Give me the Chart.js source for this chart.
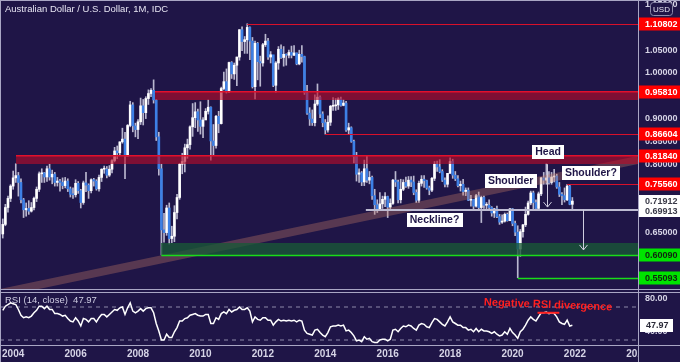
<!DOCTYPE html>
<html>
<head>
<meta charset="utf-8">
<script src="https://cdn.jsdelivr.net/npm/chart.js@4.4.0/dist/chart.umd.min.js"></script>
<style>
  html, body { margin: 0; padding: 0; background: #1f1547; }
  #wrap { position: relative; width: 680px; height: 362px; overflow: hidden; background: #1f1547; }
  canvas { position: absolute; left: 0; }
  #main { top: 0; }
  #rsi { top: 289px; }
  .ln { position: absolute; background: #a9a6c4; }
</style>
</head>
<body>
<div id="wrap">
  <canvas id="main" width="680" height="289"></canvas>
  <canvas id="rsi" width="680" height="73"></canvas>
  <div class="ln" style="left:0;top:0;width:680px;height:1px"></div>
  <div class="ln" style="left:0;top:0;width:1px;height:362px"></div>
  <div class="ln" style="left:0;top:289px;width:680px;height:1px"></div>
  <div class="ln" style="left:0;top:292px;width:680px;height:1px"></div>
  <div class="ln" style="left:0;top:345px;width:680px;height:1px"></div>
  <div class="ln" style="left:638px;top:0;width:1px;height:362px"></div>
</div>
<script>
'use strict';

const FONT = "'Liberation Sans', Arial, sans-serif";
const BG = '#1f1547';
const X_MIN = 2003.578, X_MAX = 2024.02;

// AUD/USD monthly candles, Sep 2003 - Dec 2021 (open = previous close)
const startYear = 2003, startMonth = 9;
const firstOpen = 0.647;
const closes = [
  0.668, 0.705, 0.725, 0.752,
  0.770, 0.775, 0.760, 0.722, 0.700, 0.703, 0.697, 0.705, 0.725, 0.745, 0.779, 0.781,
  0.772, 0.790, 0.772, 0.778, 0.760, 0.763, 0.760, 0.753, 0.763, 0.746, 0.734, 0.733,
  0.758, 0.742, 0.716, 0.759, 0.754, 0.742, 0.766, 0.763, 0.746, 0.771, 0.789, 0.789,
  0.776, 0.789, 0.808, 0.829, 0.825, 0.849, 0.855, 0.818, 0.885, 0.930, 0.884, 0.876,
  0.893, 0.928, 0.913, 0.944, 0.955, 0.962, 0.941, 0.860, 0.790, 0.656, 0.650, 0.704,
  0.637, 0.642, 0.694, 0.727, 0.800, 0.806, 0.836, 0.843, 0.882, 0.902, 0.915, 0.897,
  0.883, 0.897, 0.916, 0.925, 0.851, 0.841, 0.905, 0.889, 0.966, 0.981, 0.960, 1.023,
  0.998, 1.017, 1.035, 1.095, 1.069, 1.073, 1.100, 1.070, 0.970, 1.065, 1.025, 1.022,
  1.062, 1.070, 1.035, 1.040, 0.973, 1.022, 1.052, 1.034, 1.041, 1.039, 1.045, 1.039,
  1.044, 1.020, 1.041, 1.036, 0.957, 0.912, 0.899, 0.891, 0.932, 0.947, 0.910, 0.891,
  0.875, 0.892, 0.927, 0.928, 0.930, 0.943, 0.929, 0.934, 0.875, 0.880, 0.850, 0.817,
  0.778, 0.781, 0.761, 0.790, 0.765, 0.771, 0.731, 0.711, 0.702, 0.713, 0.723, 0.729,
  0.706, 0.714, 0.765, 0.761, 0.722, 0.745, 0.760, 0.752, 0.765, 0.761, 0.738, 0.721,
  0.758, 0.767, 0.764, 0.748, 0.743, 0.769, 0.800, 0.794, 0.784, 0.765, 0.756, 0.780,
  0.806, 0.776, 0.768, 0.753, 0.756, 0.740, 0.743, 0.721, 0.723, 0.708, 0.731, 0.705,
  0.727, 0.710, 0.710, 0.705, 0.693, 0.702, 0.685, 0.673, 0.675, 0.690, 0.676, 0.702,
  0.670, 0.651, 0.614, 0.652, 0.667, 0.690, 0.715, 0.737, 0.716, 0.703, 0.735, 0.770,
  0.765, 0.770, 0.760, 0.772, 0.774, 0.750, 0.734, 0.731, 0.722, 0.752, 0.712, 0.71912
];
const highs = [
  0.680, 0.712, 0.730, 0.755,
  0.785, 0.801, 0.782, 0.768, 0.725, 0.715, 0.720, 0.716, 0.728, 0.750, 0.783, 0.790,
  0.782, 0.796, 0.800, 0.787, 0.782, 0.771, 0.767, 0.770, 0.771, 0.768, 0.750, 0.748,
  0.766, 0.762, 0.745, 0.763, 0.782, 0.757, 0.768, 0.769, 0.766, 0.776, 0.790, 0.796,
  0.795, 0.797, 0.810, 0.837, 0.840, 0.849, 0.879, 0.870, 0.887, 0.938, 0.935, 0.890,
  0.898, 0.945, 0.942, 0.948, 0.963, 0.966, 0.985, 0.942, 0.870, 0.800, 0.692, 0.710,
  0.715, 0.664, 0.709, 0.734, 0.802, 0.824, 0.844, 0.855, 0.884, 0.933, 0.935, 0.921,
  0.937, 0.902, 0.922, 0.941, 0.926, 0.887, 0.907, 0.916, 0.969, 1.002, 1.009, 1.024,
  1.025, 1.022, 1.035, 1.095, 1.101, 1.080, 1.108, 1.101, 1.078, 1.070, 1.067, 1.037,
  1.065, 1.085, 1.076, 1.047, 1.038, 1.025, 1.058, 1.062, 1.058, 1.042, 1.050, 1.059,
  1.060, 1.044, 1.050, 1.060, 1.037, 0.973, 0.924, 0.919, 0.952, 0.976, 0.950, 0.915,
  0.898, 0.906, 0.929, 0.946, 0.944, 0.946, 0.947, 0.941, 0.938, 0.890, 0.882, 0.853,
  0.826, 0.790, 0.784, 0.809, 0.817, 0.784, 0.774, 0.745, 0.722, 0.738, 0.730, 0.738,
  0.730, 0.724, 0.767, 0.784, 0.765, 0.767, 0.766, 0.772, 0.773, 0.773, 0.774, 0.744,
  0.763, 0.775, 0.775, 0.765, 0.752, 0.771, 0.806, 0.807, 0.810, 0.788, 0.770, 0.780,
  0.814, 0.811, 0.784, 0.775, 0.763, 0.767, 0.748, 0.748, 0.732, 0.723, 0.734, 0.739,
  0.730, 0.730, 0.716, 0.722, 0.707, 0.703, 0.708, 0.690, 0.689, 0.693, 0.693, 0.703,
  0.703, 0.675, 0.665, 0.657, 0.668, 0.706, 0.719, 0.741, 0.741, 0.722, 0.739, 0.771,
  0.782, 0.801, 0.784, 0.782, 0.789, 0.778, 0.760, 0.738, 0.748, 0.756, 0.754, 0.727
];
const lows = [
  0.638, 0.665, 0.695, 0.718,
  0.745, 0.760, 0.730, 0.715, 0.683, 0.686, 0.690, 0.695, 0.700, 0.718, 0.740, 0.760,
  0.760, 0.762, 0.765, 0.757, 0.752, 0.752, 0.741, 0.746, 0.748, 0.740, 0.728, 0.725,
  0.728, 0.736, 0.704, 0.712, 0.740, 0.725, 0.737, 0.752, 0.743, 0.741, 0.762, 0.780,
  0.770, 0.773, 0.781, 0.805, 0.812, 0.820, 0.846, 0.768, 0.818, 0.882, 0.871, 0.860,
  0.856, 0.887, 0.886, 0.900, 0.931, 0.948, 0.934, 0.852, 0.776, 0.601, 0.629, 0.644,
  0.625, 0.628, 0.630, 0.680, 0.723, 0.779, 0.783, 0.813, 0.833, 0.861, 0.880, 0.872,
  0.866, 0.858, 0.901, 0.910, 0.809, 0.819, 0.835, 0.869, 0.888, 0.963, 0.956, 0.957,
  0.988, 0.986, 0.972, 1.028, 1.049, 1.043, 1.043, 1.029, 0.967, 0.943, 0.985, 0.971,
  1.015, 1.058, 1.030, 1.022, 0.970, 0.958, 1.008, 1.032, 1.015, 1.017, 1.033, 1.033,
  1.038, 1.018, 1.018, 1.024, 0.953, 0.909, 0.885, 0.885, 0.884, 0.929, 0.902, 0.882,
  0.866, 0.870, 0.885, 0.918, 0.918, 0.920, 0.927, 0.928, 0.872, 0.865, 0.848, 0.803,
  0.763, 0.760, 0.753, 0.753, 0.760, 0.757, 0.723, 0.690, 0.694, 0.699, 0.703, 0.707,
  0.683, 0.699, 0.712, 0.751, 0.715, 0.715, 0.742, 0.749, 0.747, 0.751, 0.733, 0.716,
  0.716, 0.752, 0.749, 0.745, 0.733, 0.740, 0.764, 0.784, 0.781, 0.762, 0.750, 0.750,
  0.780, 0.769, 0.764, 0.750, 0.741, 0.732, 0.731, 0.720, 0.708, 0.702, 0.706, 0.702,
  0.672, 0.703, 0.700, 0.700, 0.686, 0.683, 0.683, 0.668, 0.670, 0.673, 0.675, 0.676,
  0.665, 0.643, 0.551, 0.598, 0.640, 0.663, 0.688, 0.711, 0.701, 0.699, 0.699, 0.731,
  0.756, 0.756, 0.756, 0.756, 0.761, 0.747, 0.729, 0.711, 0.717, 0.720, 0.711, 0.699
];
// RSI(14, close)
const rsi14 = [
  66, 71, 73, 75,
  74, 73, 67, 60, 57, 58, 57, 59, 63, 66, 71, 71,
  68, 71, 67, 67, 62, 62, 61, 59, 60, 56, 53, 52,
  57, 53, 47, 56, 55, 52, 56, 56, 52, 57, 61, 61,
  58, 61, 64, 67, 66, 69, 70, 61, 69, 75, 65, 63,
  65, 68, 65, 68, 69, 69, 63, 50, 41, 30, 30, 37,
  33, 33, 40, 45, 53, 53, 56, 57, 60, 61, 62, 60,
  59, 59, 61, 61, 50, 50, 57, 55, 62, 64, 62, 67,
  64, 66, 67, 70, 67, 67, 69, 65, 52, 58, 55, 54,
  57, 57, 54, 54, 48, 52, 55, 53, 54, 53, 54, 53,
  54, 52, 54, 53, 42, 38, 37, 36, 42, 43, 39, 36,
  34, 39, 46, 47, 47, 48, 47, 48, 41, 42, 39, 35,
  29, 30, 28, 34, 31, 32, 28, 27, 27, 30, 31, 31,
  29, 31, 42, 43, 40, 44, 47, 46, 48, 47, 44, 42,
  48, 50, 49, 46, 45, 51, 56, 55, 52, 49, 47, 52,
  58, 52, 50, 48, 48, 45, 45, 42, 43, 40, 44, 40,
  43, 41, 41, 40, 38, 40, 37, 35, 36, 40, 37, 44,
  39, 36, 32, 40, 43, 48, 54, 58, 55, 53, 58, 63,
  63, 64, 62, 63, 62, 58, 52, 50, 49, 54, 47, 47.97
];

const yearTicks = [2004, 2006, 2008, 2010, 2012, 2014, 2016, 2018, 2020, 2022, 2024];
const priceTicks = [0.55, 0.60, 0.65, 0.70, 0.75, 0.80, 0.85, 0.90, 0.95, 1.00, 1.05, 1.10, 1.15];
const rsiTicks = [40, 80];
const rsiGuides = [70, 30];

// drawn levels
const redLines = [1.10802, 0.86604, 0.75560];
const redLineFrom = [2011.5, 2014.0, 2021.75];
const redBandTop = [0.95810, 0.81840];
const redBandBottom = [0.94, 0.80];
const redBandFrom = [2008.55, 2004.08];
const greenLines = [0.60090, 0.55093];
const greenLineFrom = [2008.75, 2020.17];
const greenBandTop = 0.627;
const lastPrice = 0.71912;
const neckline = 0.69913;
const necklineFrom = 2015.3;
const trendTime = [2003.578, 2024.02];
const trendPrice = [0.5175, 0.8092];
const notes = [
  { text: 'Head', x: 2021.14, y: 0.8268 },
  { text: 'Shoulder', x: 2019.94, y: 0.7632 },
  { text: 'Shoulder?', x: 2022.51, y: 0.7807 },
  { text: 'Neckline?', x: 2017.5, y: 0.6787 }
];
const arrows = [
  { x: 2021.11, from: 0.800, to: 0.706 },
  { x: 2022.27, from: 0.700, to: 0.612 }
];
const divergence = { from: 2020.8, to: 2021.5, level: 63 };

const monthX = i => startYear + (startMonth - 1 + i) / 12;
const opens = closes.map((c, i) => i ? closes[i - 1] : firstOpen);

function noPad(a) {
  a.paddingLeft = 0; a.paddingRight = 0; a.paddingTop = 0; a.paddingBottom = 0;
}

function tag(ctx, x, yc, text, bg, fg) {
  const y = Math.round(yc);
  ctx.fillStyle = bg;
  ctx.fillRect(x, y - 6.5, 42, 13);
  ctx.fillStyle = fg;
  ctx.font = 'bold 9px ' + FONT;
  ctx.textAlign = 'left';
  ctx.textBaseline = 'middle';
  ctx.fillText(text, x + 6, y + 0.5);
}

const mainOverlay = {
  id: 'mainOverlay',
  afterDatasetsDraw(chart) {
    const { ctx, chartArea: a, scales: { x, y } } = chart;
    const R = a.right;
    ctx.save();
    ctx.beginPath();
    ctx.rect(a.left, a.top, a.right - a.left, a.bottom - a.top);
    ctx.clip();

    // rising trend channel
    ctx.strokeStyle = 'rgba(190,120,100,0.36)';
    ctx.lineWidth = 8;
    ctx.beginPath();
    ctx.moveTo(x.getPixelForValue(trendTime[0]), y.getPixelForValue(trendPrice[0]));
    ctx.lineTo(x.getPixelForValue(trendTime[1]), y.getPixelForValue(trendPrice[1]));
    ctx.stroke();

    // red zones
    redBandTop.forEach((top, i) => {
      const x0 = Math.round(x.getPixelForValue(redBandFrom[i]));
      const y0 = Math.round(y.getPixelForValue(top));
      const y1 = Math.round(y.getPixelForValue(redBandBottom[i]));
      ctx.fillStyle = 'rgba(185,12,40,0.62)';
      ctx.fillRect(x0, y0, R - x0, y1 - y0);
      ctx.fillStyle = '#e3102c';
      ctx.fillRect(x0, y0 - 1, R - x0, 1.5);
    });

    // green zone
    {
      const x0 = Math.round(x.getPixelForValue(greenLineFrom[0]));
      const y0 = Math.round(y.getPixelForValue(greenBandTop));
      const y1 = Math.round(y.getPixelForValue(greenLines[0]));
      ctx.fillStyle = 'rgba(25,88,55,0.78)';
      ctx.fillRect(x0, y0, R - x0, y1 - y0);
    }

    // thin levels
    ctx.lineWidth = 1;
    redLines.forEach((v, i) => {
      const yy = Math.round(y.getPixelForValue(v)) + 0.5;
      ctx.strokeStyle = '#d8102a';
      ctx.beginPath();
      ctx.moveTo(x.getPixelForValue(redLineFrom[i]), yy);
      ctx.lineTo(R, yy);
      ctx.stroke();
    });
    ctx.lineWidth = 1.5;
    greenLines.forEach((v, i) => {
      const yy = Math.round(y.getPixelForValue(v)) + 0.5;
      ctx.strokeStyle = '#19dd19';
      ctx.beginPath();
      ctx.moveTo(x.getPixelForValue(greenLineFrom[i]), yy);
      ctx.lineTo(R, yy);
      ctx.stroke();
    });

    // neckline
    {
      const yy = Math.round(y.getPixelForValue(neckline));
      ctx.strokeStyle = '#bdbbd2';
      ctx.lineWidth = 2;
      ctx.beginPath();
      ctx.moveTo(x.getPixelForValue(necklineFrom), yy);
      ctx.lineTo(R, yy);
      ctx.stroke();
    }

    // arrows
    ctx.strokeStyle = '#cfcde0';
    ctx.lineWidth = 1;
    arrows.forEach(ar => {
      const xx = Math.round(x.getPixelForValue(ar.x)) + 0.5;
      const y0 = y.getPixelForValue(ar.from), y1 = y.getPixelForValue(ar.to);
      ctx.beginPath();
      ctx.moveTo(xx, y0);
      ctx.lineTo(xx, y1);
      ctx.moveTo(xx - 4, y1 - 5);
      ctx.lineTo(xx, y1);
      ctx.lineTo(xx + 4, y1 - 5);
      ctx.stroke();
    });

    // pattern notes
    ctx.font = 'bold 10.5px ' + FONT;
    ctx.textAlign = 'center';
    ctx.textBaseline = 'middle';
    notes.forEach(n => {
      const cx = x.getPixelForValue(n.x), cy = Math.round(y.getPixelForValue(n.y));
      const w = Math.round(ctx.measureText(n.text).width) + 6;
      ctx.fillStyle = '#ffffff';
      ctx.fillRect(Math.round(cx - w / 2), cy - 7, w, 14);
      ctx.fillStyle = '#1f1547';
      ctx.fillText(n.text, cx, cy + 0.5);
    });
    ctx.restore();

    // price tags on the axis
    ctx.save();
    const L = R + 1;
    redLines.concat(redBandTop).forEach(v => tag(ctx, L, y.getPixelForValue(v), v.toFixed(5), '#ff0000', '#ffffff'));
    greenLines.forEach(v => tag(ctx, L, y.getPixelForValue(v), v.toFixed(5), '#00e400', '#10240f'));
    const yA = Math.round(y.getPixelForValue(lastPrice)), yB = Math.round(y.getPixelForValue(neckline));
    ctx.fillStyle = '#ffffff';
    ctx.fillRect(L, yA - 6, 42, yB - yA + 13);
    ctx.fillStyle = '#3a3a48';
    ctx.font = 'bold 9px ' + FONT;
    ctx.textAlign = 'left';
    ctx.textBaseline = 'middle';
    ctx.fillText(lastPrice.toFixed(5), L + 6, yA + 0.5);
    ctx.fillText(neckline.toFixed(5), L + 6, yB + 1.5);

    // title and currency badge
    ctx.fillStyle = '#e6e4f2';
    ctx.font = '9.5px ' + FONT;
    ctx.textBaseline = 'middle';
    ctx.fillText('Australian Dollar / U.S. Dollar, 1M, IDC', 5, 9.5);
    ctx.fillStyle = BG;
    ctx.strokeStyle = '#8c89aa';
    ctx.lineWidth = 1;
    ctx.beginPath();
    ctx.roundRect(650.5, 2.5, 22, 13, 3);
    ctx.fill();
    ctx.stroke();
    ctx.fillStyle = '#e6e4f2';
    ctx.font = '8px ' + FONT;
    ctx.textAlign = 'center';
    ctx.fillText('USD', 661.5, 9.5);
    ctx.restore();
  }
};

const rsiOverlay = {
  id: 'rsiOverlay',
  beforeDatasetsDraw(chart) {
    const { ctx } = chart;
    ctx.save();
    ctx.fillStyle = '#cfcde3';
    ctx.font = '9.5px ' + FONT;
    ctx.textBaseline = 'middle';
    ctx.fillText('RSI (14, close)  ' + rsi14[rsi14.length - 1].toFixed(2), 5, 11);
    ctx.restore();
  },
  afterDatasetsDraw(chart) {
    const { ctx, chartArea: a, scales: { x, y } } = chart;
    ctx.save();
    // hide the part of the last year label under the price axis
    ctx.fillStyle = BG;
    ctx.fillRect(a.right + 1, a.bottom + 1, 50, 30);
    // divergence caption
    ctx.translate(x.getPixelForValue(2021.14), y.getPixelForValue(72.5));
    ctx.rotate(0.04);
    ctx.fillStyle = '#ff2020';
    ctx.font = 'bold 11px ' + FONT;
    ctx.textAlign = 'center';
    ctx.textBaseline = 'middle';
    ctx.fillText('Negative RSI divergence', 0, 0);
    ctx.restore();
    // last value tag
    ctx.save();
    const last = rsi14[rsi14.length - 1];
    const yy = Math.round(y.getPixelForValue(last));
    ctx.fillStyle = '#ffffff';
    ctx.fillRect(a.right + 2, yy - 6, 33, 13);
    ctx.fillStyle = '#2a2a38';
    ctx.font = 'bold 9px ' + FONT;
    ctx.textAlign = 'left';
    ctx.textBaseline = 'middle';
    ctx.fillText(last.toFixed(2), a.right + 8, yy + 0.5);
    ctx.restore();
  }
};

const axisFont = { family: FONT, size: 9, weight: 'bold' };

new Chart(document.getElementById('main'), {
  type: 'bar',
  data: {
    datasets: [
      {
        label: 'body',
        data: closes.map((c, i) => ({ x: monthX(i), y: [opens[i], c] })),
        barThickness: 2,
        minBarLength: 1,
        grouped: false,
        backgroundColor: ctx => closes[ctx.dataIndex] >= opens[ctx.dataIndex] ? '#ffffff' : '#3d80e6'
      },
      {
        label: 'wick',
        data: highs.map((h, i) => ({ x: monthX(i), y: [lows[i], h] })),
        barThickness: 1,
        grouped: false,
        backgroundColor: '#b9b7cf'
      }
    ]
  },
  options: {
    responsive: false,
    animation: false,
    devicePixelRatio: 1,
    layout: { padding: 0 },
    plugins: { legend: { display: false }, tooltip: { enabled: false } },
    scales: {
      x: {
        type: 'linear', min: X_MIN, max: X_MAX, offset: false, display: false,
        afterFit: noPad
      },
      y: {
        position: 'right', min: 0.52632, max: 1.16009,
        grid: { display: false, drawTicks: false },
        border: { display: false },
        ticks: {
          color: '#d6d4e6', font: axisFont, padding: 7, autoSkip: false,
          callback: v => v.toFixed(5)
        },
        afterBuildTicks: a => { a.ticks = priceTicks.map(v => ({ value: v })); },
        afterFit: a => { a.width = 42; noPad(a); }
      }
    }
  },
  plugins: [mainOverlay]
});

new Chart(document.getElementById('rsi'), {
  type: 'line',
  data: {
    datasets: [
      {
        data: [{ x: divergence.from, y: divergence.level }, { x: divergence.to, y: divergence.level }],
        borderColor: '#ff2020', borderWidth: 2, pointRadius: 0
      },
      {
        data: rsi14.map((r, i) => ({ x: monthX(i), y: r })),
        borderColor: '#ffffff', borderWidth: 1.5, pointRadius: 0, tension: 0
      },
      ...rsiGuides.map(g => ({
        data: [{ x: X_MIN, y: g }, { x: X_MAX, y: g }],
        borderColor: '#8d89aa', borderWidth: 1, borderDash: [4, 4], pointRadius: 0
      }))
    ]
  },
  options: {
    responsive: false,
    animation: false,
    devicePixelRatio: 1,
    layout: { padding: { top: 3 } },
    plugins: { legend: { display: false }, tooltip: { enabled: false } },
    scales: {
      x: {
        type: 'linear', min: X_MIN, max: X_MAX, offset: false,
        grid: { display: false, drawTicks: false },
        border: { display: false },
        ticks: {
          color: '#d6d4e6', font: { family: FONT, size: 10, weight: 'bold' }, padding: 3,
          maxRotation: 0, autoSkip: false, callback: v => String(v)
        },
        afterBuildTicks: a => { a.ticks = yearTicks.map(v => ({ value: v })); },
        afterFit: a => { a.height = 17; noPad(a); }
      },
      y: {
        position: 'right', min: 23.94, max: 88.18,
        grid: { display: false, drawTicks: false },
        border: { display: false },
        ticks: {
          color: '#d6d4e6', font: axisFont, padding: 7, autoSkip: false,
          callback: v => v.toFixed(2)
        },
        afterBuildTicks: a => { a.ticks = rsiTicks.map(v => ({ value: v })); },
        afterFit: a => { a.width = 42; noPad(a); }
      }
    }
  },
  plugins: [rsiOverlay]
});
</script>
</body>
</html>
